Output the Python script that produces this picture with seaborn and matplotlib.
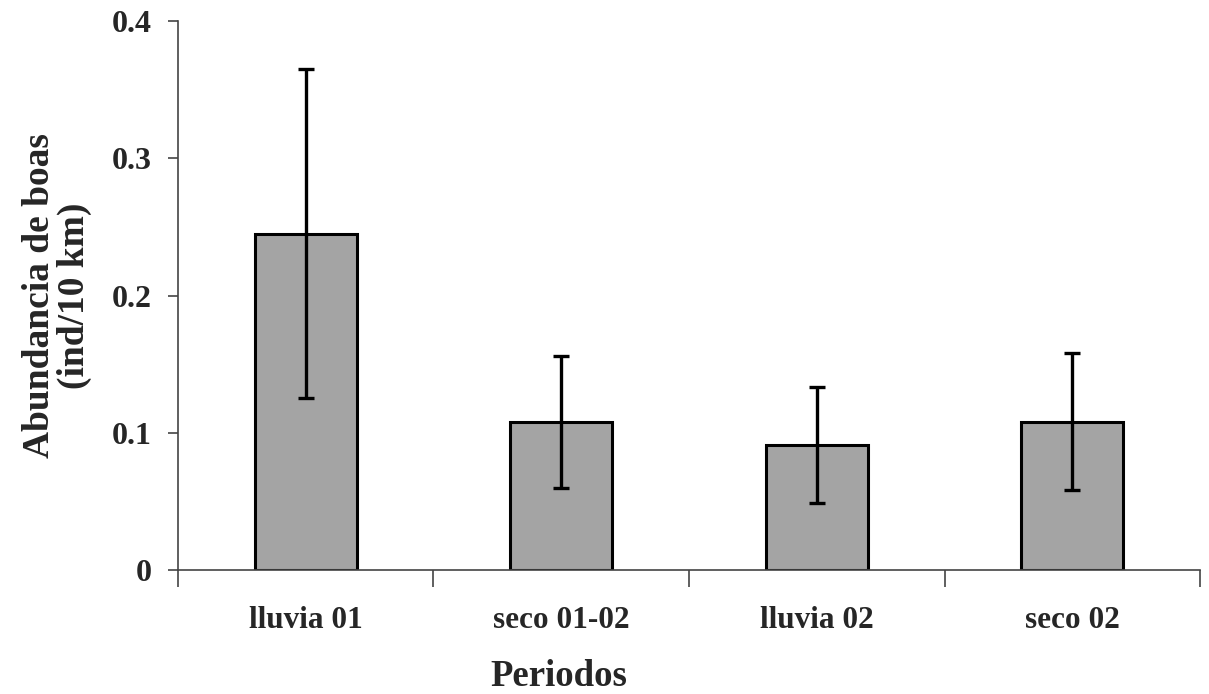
import matplotlib
matplotlib.use("Agg")
import matplotlib.pyplot as plt
import seaborn as sns
import numpy as np
import pandas as pd
from matplotlib.ticker import FixedLocator

periodos = ["lluvia 01", "seco 01-02", "lluvia 02", "seco 02"]
abundancia = [0.245, 0.108, 0.091, 0.108]
error = [0.12, 0.048, 0.042, 0.050]
yticks = [0, 0.1, 0.2, 0.3, 0.4]
ytick_labels = ["0", "0.1", "0.2", "0.3", "0.4"]

sns.set_style("white")
plt.rcParams['font.family'] = ['Liberation Serif', 'DejaVu Serif']
plt.rcParams['font.weight'] = 'bold'

df = pd.DataFrame({"periodo": periodos, "abundancia": abundancia})

fig = plt.figure(figsize=(12.09, 6.94), dpi=100)
ax = fig.add_axes([0.1472, 0.1787, 0.8454, 0.791])

sns.barplot(data=df, x="periodo", y="abundancia", color="#a4a4a4", saturation=1,
            width=0.4, edgecolor="black", linewidth=2.2, errorbar=None, ax=ax, zorder=2)
ax.errorbar(np.arange(len(periodos)), abundancia, yerr=error, fmt="none",
            ecolor="black", elinewidth=2.4, capsize=6, capthick=2.4, zorder=3)

ax.set_xlim(-0.5, len(periodos) - 0.5)
ax.set_ylim(0, 0.4)
ax.set_yticks(yticks)
ax.set_yticklabels(ytick_labels)

ax.xaxis.set_minor_locator(FixedLocator(np.arange(len(periodos) + 1) - 0.5))
ax.tick_params(axis="x", which="major", length=0, pad=26, labelsize=22.5)
ax.tick_params(axis="x", which="minor", length=12, width=1.2, color="#444444", direction="out", bottom=True)
ax.tick_params(axis="y", which="major", length=7, width=1.2, color="#444444", direction="out", left=True, labelsize=23, pad=12)
for lab in ax.get_xticklabels() + ax.get_yticklabels():
    lab.set_fontweight("bold")

for s in ["top", "right"]:
    ax.spines[s].set_visible(False)
for s in ["left", "bottom"]:
    ax.spines[s].set_color("#444444")
    ax.spines[s].set_linewidth(1.2)

ax.set_xlabel("Periodos", fontsize=26.5, fontweight="bold")
ax.xaxis.set_label_coords(0.373, -0.162)
ax.set_ylabel("Abundancia de boas\n(ind/10 km)", fontsize=27, fontweight="bold", linespacing=1.0)
ax.yaxis.set_label_coords(-0.084, 0.5)

fig.savefig("out.png", dpi=100)
